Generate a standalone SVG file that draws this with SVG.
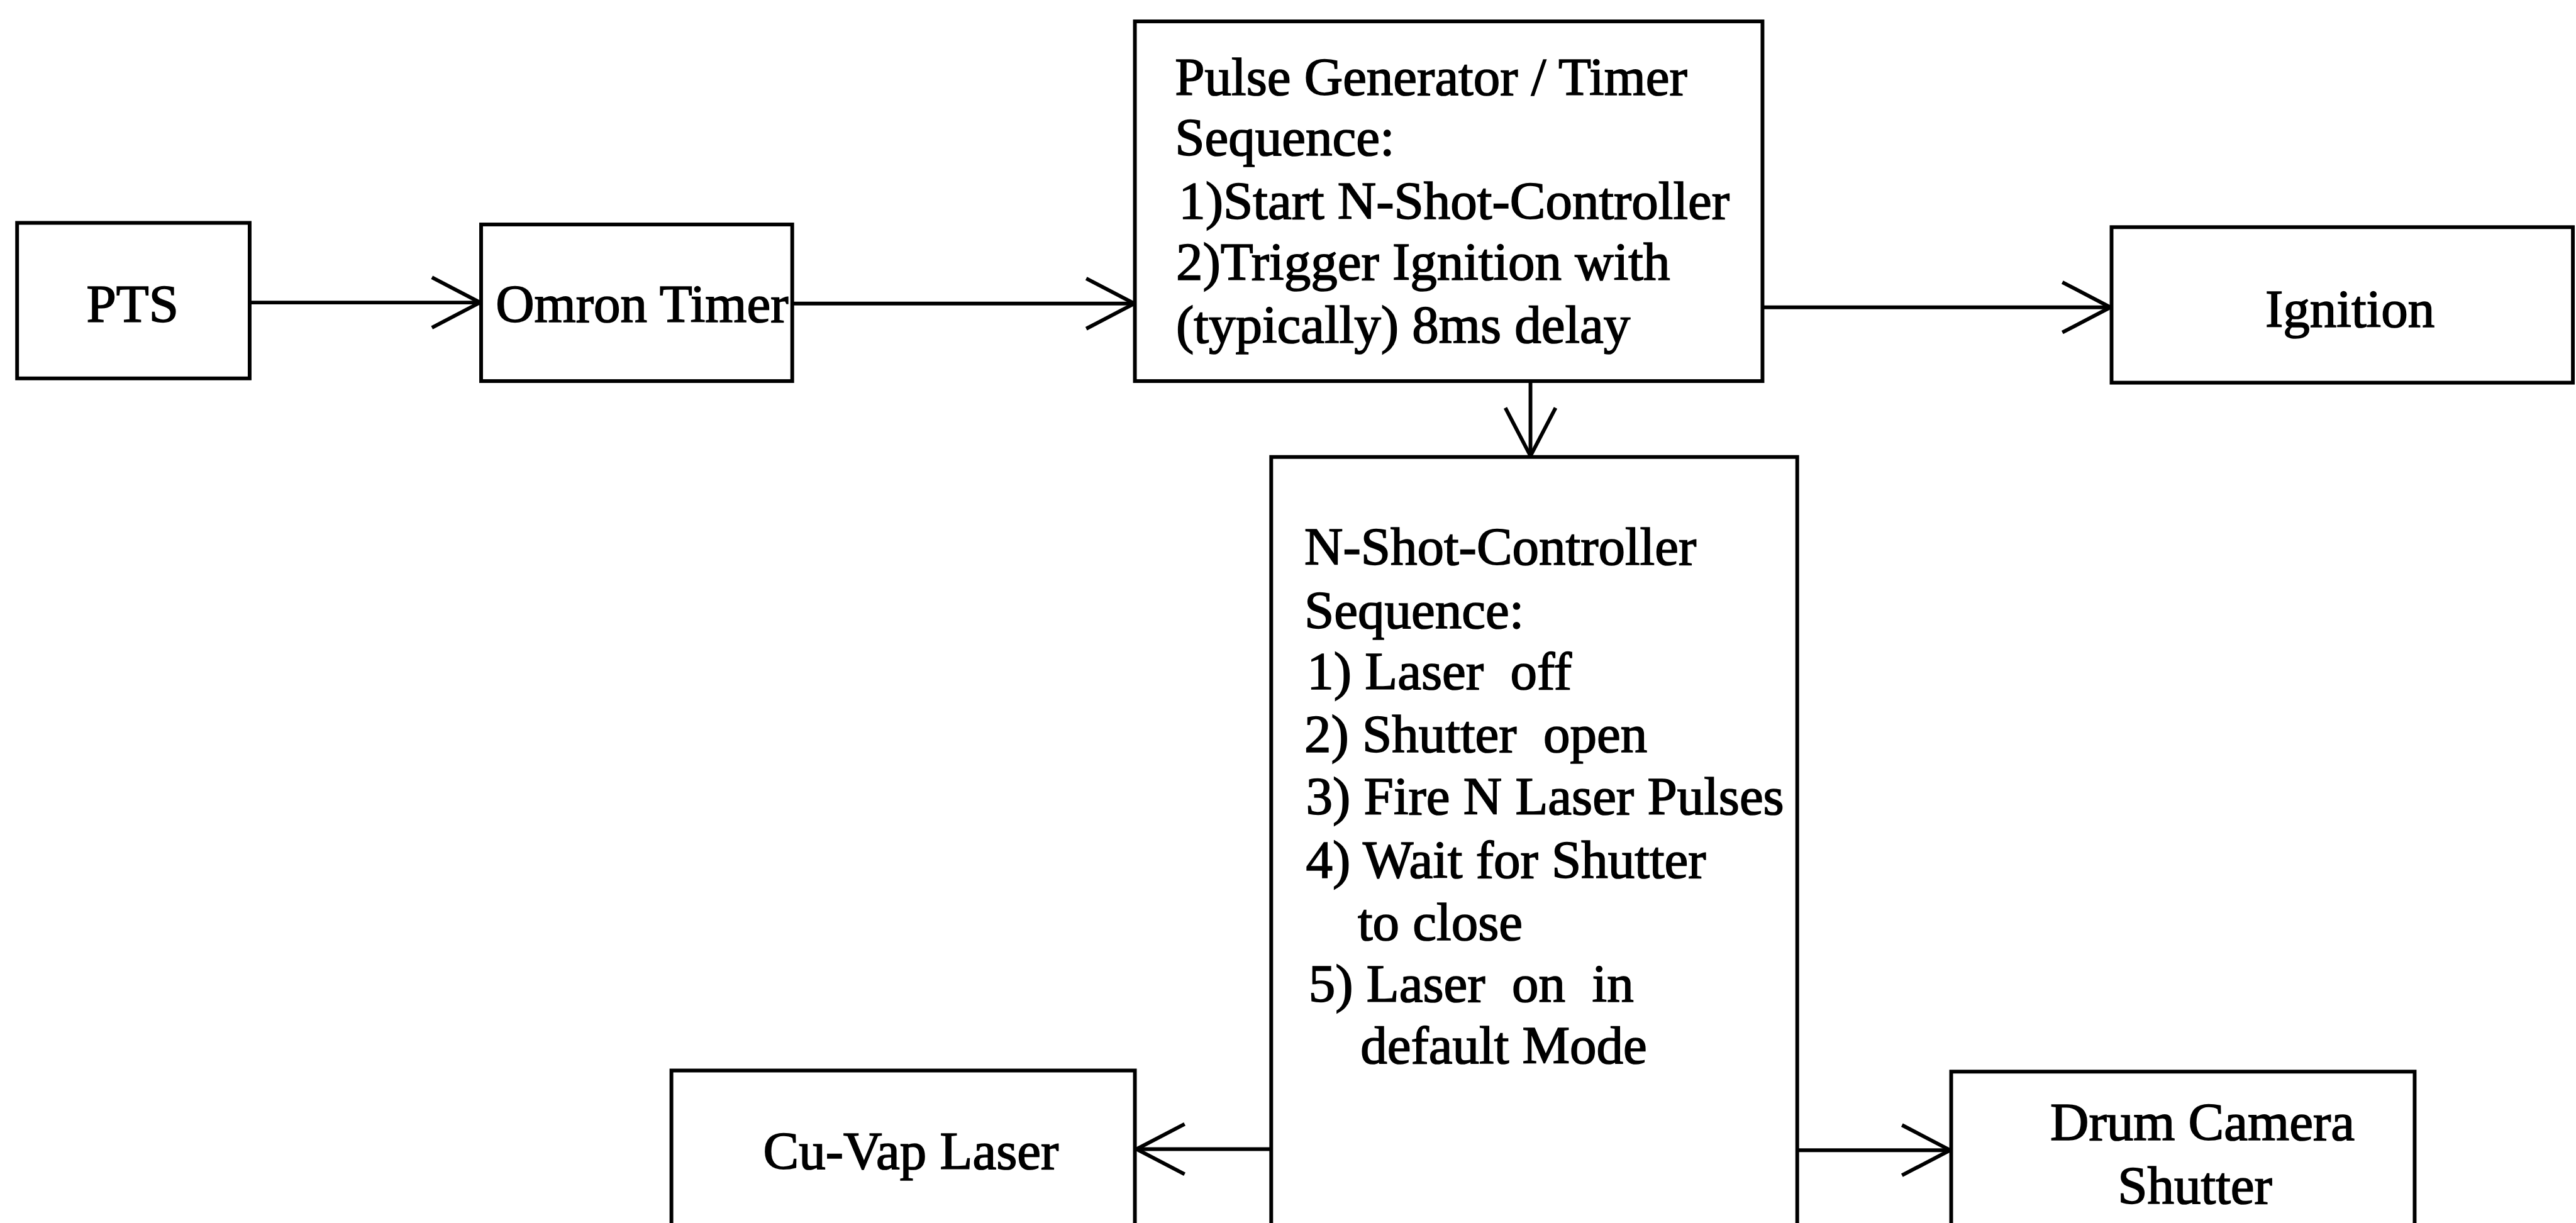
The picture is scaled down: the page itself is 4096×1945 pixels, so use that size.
<svg xmlns="http://www.w3.org/2000/svg" width="4096" height="1945" viewBox="0 0 4096 1945">
<style>
.box{fill:#fff;stroke:#000;stroke-width:7;stroke-linejoin:miter}
.lbl{font-family:"Liberation Serif","Times New Roman",serif;font-size:100px;fill:#000;stroke:#000;stroke-width:2}
.mid{text-anchor:middle}
.pre{white-space:pre}
.con{stroke:#000;stroke-width:7;fill:none}
</style>
<defs>
<marker id="vee" markerUnits="userSpaceOnUse" viewBox="-100 -55 110 110" refX="0" refY="0" markerWidth="110" markerHeight="110" orient="auto">
<path d="M-90,-47 L0,0 L-90,47" fill="none" stroke="#000" stroke-width="7" stroke-linejoin="miter"/>
</marker>
</defs>
<rect width="4096" height="1945" fill="#fff"/>
<g transform="scale(0.85)">
<g id="connectors">
<line class="con" x1="467" y1="566" x2="898" y2="566" marker-end="url(#vee)"/>
<line class="con" x1="1483" y1="568" x2="2122" y2="568" marker-end="url(#vee)"/>
<line class="con" x1="3297" y1="575" x2="3948" y2="575" marker-end="url(#vee)"/>
<line class="con" x1="2863" y1="713" x2="2863" y2="853" marker-end="url(#vee)"/>
<line class="con" x1="2378" y1="2150" x2="2126" y2="2150" marker-end="url(#vee)"/>
<line class="con" x1="3362" y1="2152" x2="3648" y2="2152" marker-end="url(#vee)"/>
</g>
<g id="pts">
<rect class="box" x="32" y="417" width="435" height="291"/>
<text class="lbl mid" x="248" y="602" font-size="104">PTS</text>
</g>
<g id="omron">
<rect class="box" x="900" y="420" width="582" height="293"/>
<text class="lbl mid" x="1201" y="602" font-size="96">Omron Timer</text>
</g>
<g id="pulse">
<rect class="box" x="2123" y="40" width="1174" height="673"/>
<text class="lbl" x="2198" y="178">Pulse Generator / Timer</text>
<text class="lbl" x="2198" y="291">Sequence:</text>
<text class="lbl" x="2205" y="410">1)Start N-Shot-Controller</text>
<text class="lbl" x="2200" y="524">2)Trigger Ignition with</text>
<text class="lbl" x="2200" y="641">(typically) 8ms delay</text>
</g>
<g id="ignition">
<rect class="box" x="3950" y="425" width="863" height="291"/>
<text class="lbl mid" x="4396" y="612">Ignition</text>
</g>
<g id="nshot">
<path class="box" d="M2378,2295 V855 H3362 V2295"/>
<text class="lbl pre" x="2440" y="1057" font-size="96">N-Shot-Controller</text>
<text class="lbl pre" x="2440" y="1175" font-size="96">Sequence:</text>
<text class="lbl pre" x="2445" y="1290" font-size="96">1) Laser  off</text>
<text class="lbl pre" x="2440" y="1407" font-size="96">2) Shutter  open</text>
<text class="lbl pre" x="2443" y="1523" font-size="96">3) Fire N Laser Pulses</text>
<text class="lbl pre" x="2443" y="1642" font-size="96">4) Wait for Shutter</text>
<text class="lbl pre" x="2540" y="1759" font-size="96">to close</text>
<text class="lbl pre" x="2448" y="1874" font-size="96">5) Laser  on  in</text>
<text class="lbl pre" x="2545" y="1989" font-size="96">default Mode</text>
</g>
<g id="cuvap">
<path class="box" d="M1256,2295 V2003 H2123 V2295"/>
<text class="lbl mid" x="1704" y="2187">Cu-Vap Laser</text>
</g>
<g id="drum">
<path class="box" d="M3650,2295 V2005 H4517 V2295"/>
<text class="lbl mid" x="4120" y="2133">Drum Camera</text>
<text class="lbl mid" x="4106" y="2252">Shutter</text>
</g>
</g>
</svg>
